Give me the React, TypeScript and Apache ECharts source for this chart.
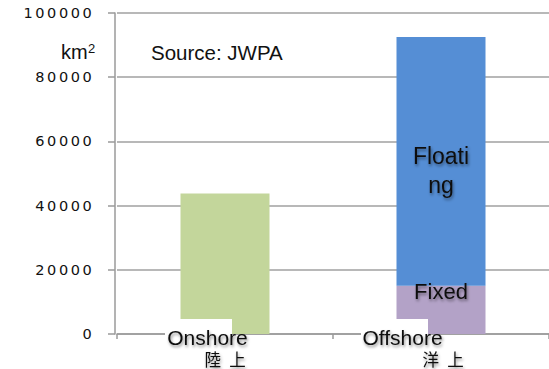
import React, { useEffect, useRef } from "react";
import * as echarts from "echarts";

const categories = ["Onshore", "Offshore"];
const baseValues = [43800, 15000]; // onshore total, offshore fixed
const floatingValues = [null, 77500]; // offshore floating (stacked on fixed)
const yTicks = { min: 0, max: 100000, interval: 20000 };

const FONT = "'Liberation Sans', Arial, sans-serif";
const CJK = "'Noto Sans CJK JP', sans-serif";
const shadow = {
  textShadowColor: "rgba(0,0,0,0.45)",
  textShadowBlur: 3,
  textShadowOffsetX: 1,
  textShadowOffsetY: 2,
};

export default function App() {
  const ref = useRef<HTMLDivElement>(null);
  useEffect(() => {
    if (!ref.current) return;
    const chart = echarts.init(ref.current, undefined, { renderer: "svg" });
    chart.setOption({
      animation: false,
      grid: { left: 117, width: 436, top: 13, bottom: 35 },
      xAxis: {
        type: "category",
        data: categories,
        axisLine: { lineStyle: { color: "#9a9a9a", width: 1.5 } },
        axisTick: { show: true, length: 5, lineStyle: { color: "#9a9a9a", width: 1.5 } },
        axisLabel: { show: false },
      },
      yAxis: {
        type: "value",
        offset: 2,
        min: yTicks.min,
        max: yTicks.max,
        interval: yTicks.interval,
        axisLine: { show: true, lineStyle: { color: "#9a9a9a", width: 1.5 } },
        axisTick: { show: true, length: 7, lineStyle: { color: "#9a9a9a", width: 1.5 } },
        splitLine: { show: true, lineStyle: { color: "#a0a0a0", width: 1.5 } },
        axisLabel: {
          margin: 22,
          formatter: (v: number) =>
            String(v)
              .split("")
              .map((c) => `{d|${c}}`)
              .join(""),
          rich: {
            d: {
              width: 11.8,
              align: "center",
              fontSize: 14.5,
              fontFamily: "'DejaVu Sans', Verdana, sans-serif",
              color: "#111",
            },
          },
        },
      },
      series: [
        {
          type: "bar",
          stack: "s",
          barWidth: 89,
          data: [
            { value: baseValues[0], itemStyle: { color: "#C3D69B" } },
            {
              value: baseValues[1],
              itemStyle: { color: "#B3A2C7" },
              label: {
                show: true,
                formatter: "Fixed",
                position: "insideTop",
                offset: [0, -10],
                fontSize: 22,
                fontFamily: FONT,
                color: "#111",
                ...shadow,
              },
            },
          ],
        },
        {
          type: "bar",
          stack: "s",
          barWidth: 89,
          itemStyle: { color: "#558ED5" },
          label: {
            show: true,
            formatter: "Floati\nng",
            position: "inside",
            offset: [0, 9],
            fontSize: 23,
            lineHeight: 29,
            fontFamily: FONT,
            color: "#111",
            ...shadow,
          },
          data: floatingValues,
        },
      ],
      graphic: [
        { type: "rect", z: 100, shape: { x: 165, y: 319, width: 67, height: 28 }, style: { fill: "#fff" } },
        { type: "rect", z: 100, shape: { x: 361, y: 319, width: 67, height: 28 }, style: { fill: "#fff" } },
        {
          type: "text", z: 101, x: 207.5, y: 337,
          style: { text: "Onshore", fontSize: 21, lineHeight: 18, fontFamily: FONT, fill: "#111", align: "center", verticalAlign: "middle", ...shadow },
        },
        {
          type: "text", z: 101, x: 225, y: 358.5,
          style: { text: "陸\u2002上", fontSize: 16.5, lineHeight: 17, fontFamily: CJK, fill: "#111", align: "center", verticalAlign: "middle", ...shadow },
        },
        {
          type: "text", z: 101, x: 402.5, y: 337,
          style: { text: "Offshore", fontSize: 21, lineHeight: 18, fontFamily: FONT, fill: "#111", align: "center", verticalAlign: "middle", ...shadow },
        },
        {
          type: "text", z: 101, x: 443, y: 358.5,
          style: { text: "洋\u2002上", fontSize: 16.5, lineHeight: 17, fontFamily: CJK, fill: "#111", align: "center", verticalAlign: "middle", ...shadow },
        },
        {
          type: "text", z: 101, x: 151, y: 52,
          style: { text: "Source: JWPA", fontSize: 20.5, fontFamily: FONT, fill: "#111", align: "left", verticalAlign: "middle" },
        },
        {
          type: "text", z: 101, x: 61, y: 52,
          style: { text: "km", fontSize: 20, fontFamily: FONT, fill: "#111", align: "left", verticalAlign: "middle" },
        },
        {
          type: "text", z: 101, x: 88, y: 48,
          style: { text: "2", fontSize: 13, fontFamily: FONT, fill: "#111", align: "left", verticalAlign: "middle" },
        },
      ],
    });
    return () => chart.dispose();
  }, []);
  return <div ref={ref} style={{ width: 549, height: 369, position: "absolute", left: 0, top: 0 }} />;
}
